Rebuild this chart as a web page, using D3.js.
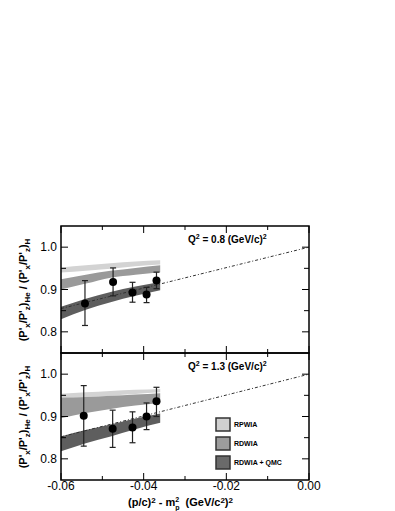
<!DOCTYPE html>
<html>
<head>
<meta charset="utf-8">
<script src="https://cdn.jsdelivr.net/npm/d3@7"></script>
<style>
  body { margin: 0; background: #fff; }
  text { font-family: 'Liberation Sans', Arial, sans-serif; }
</style>
</head>
<body>
<div id="chart"></div>
<script>
// band x grid (GeV/c^2)^2
var bandX = [-0.06, -0.054, -0.048, -0.042, -0.036];

// Q2 = 0.8 panel
var rpwiaLo08 = [0.940, 0.944, 0.949, 0.955, 0.959];
var rpwiaHi08 = [0.952, 0.957, 0.962, 0.966, 0.969];
var rdwiaLo08 = [0.900, 0.914, 0.928, 0.935, 0.941];
var rdwiaHi08 = [0.924, 0.935, 0.944, 0.951, 0.957];
var qmcLo08 = [0.830, 0.852, 0.870, 0.885, 0.898];
var qmcHi08 = [0.859, 0.878, 0.894, 0.907, 0.918];
var ptsX08 = [-0.0542, -0.0474, -0.0427, -0.0393, -0.0369];
var ptsY08 = [0.867, 0.918, 0.893, 0.888, 0.921];
var errLo08 = [0.815, 0.885, 0.870, 0.869, 0.902];
var errHi08 = [0.921, 0.951, 0.917, 0.905, 0.941];

// Q2 = 1.3 panel
var rpwiaLo13 = [0.943, 0.946, 0.949, 0.953, 0.957];
var rpwiaHi13 = [0.954, 0.957, 0.960, 0.963, 0.965];
var rdwiaLo13 = [0.896, 0.908, 0.918, 0.926, 0.932];
var rdwiaHi13 = [0.944, 0.946, 0.949, 0.952, 0.955];
var qmcLo13 = [0.818, 0.837, 0.853, 0.870, 0.885];
var qmcHi13 = [0.853, 0.868, 0.881, 0.895, 0.907];
var ptsX13 = [-0.0545, -0.0475, -0.0427, -0.0393, -0.0369];
var ptsY13 = [0.902, 0.871, 0.874, 0.900, 0.936];
var errLo13 = [0.830, 0.827, 0.838, 0.869, 0.900];
var errHi13 = [0.973, 0.915, 0.911, 0.932, 0.969];

// dash-dotted reference line
var lineX = [-0.06, 0.0];
var lineY08 = [0.855, 1.0];
var lineY13 = [0.852, 1.0];

var xTicks = [-0.06, -0.05, -0.04, -0.03, -0.02, -0.01, 0.0];
var xTickLabels = ['-0.06', '', '-0.04', '', '-0.02', '', '0.00'];
var yTicks = [0.8, 0.85, 0.9, 0.95, 1.0];
var yTickLabels = ['0.8', '', '0.9', '', '1.0'];
var legendNames = ['RPWIA', 'RDWIA', 'RDWIA + QMC'];
var legendColors = ['#d0d0d0', '#9c9c9c', '#6a6a6a'];
var bandColors = ['#d3d3d3', '#9a9a9a', '#5e5e5e'];

var width = 395, height = 511;
var left = 61, right = 309;
var panelH = 127;

var svg = d3.select('#chart').append('svg')
  .attr('width', width)
  .attr('height', height);

var x = d3.scaleLinear().domain([-0.06, 0.0]).range([left, right]);

var drawPanel = function(top, bands, ptsX, ptsY, errLo, errHi, lineY, qLabel) {
  var y = d3.scaleLinear().domain([0.75, 1.05]).range([top + panelH, top]);
  var g = svg.append('g');

  /*
  bands
  */
  bands.forEach(function(b, i) {
    var area = d3.area()
      .x(function(d, j) { return x(bandX[j]); })
      .y0(function(d, j) { return y(b[0][j]); })
      .y1(function(d, j) { return y(b[1][j]); })
      .curve(d3.curveMonotoneX);
    g.append('path')
      .attr('d', area(bandX))
      .style('fill', bandColors[i])
      .style('stroke', 'none');
  });

  // dash dot line
  var line = d3.line()
    .x(function(d, j) { return x(lineX[j]); })
    .y(function(d, j) { return y(lineY[j]); });
  g.append('path')
    .attr('d', line(lineX))
    .style('fill', 'none')
    .style('stroke', '#333')
    .style('stroke-width', 1)
    .style('stroke-dasharray', '3,2,1,2');

  // error bars
  ptsX.forEach(function(px, i) {
    var cx = x(px);
    g.append('line')
      .attr('x1', cx).attr('x2', cx)
      .attr('y1', y(errLo[i])).attr('y2', y(errHi[i]))
      .style('stroke', '#222').style('stroke-width', 1.2);
    [errLo[i], errHi[i]].forEach(function(v) {
      g.append('line')
        .attr('x1', cx - 3).attr('x2', cx + 3)
        .attr('y1', y(v)).attr('y2', y(v))
        .style('stroke', '#222').style('stroke-width', 1.2);
    });
    g.append('circle')
      .attr('cx', cx)
      .attr('cy', y(ptsY[i]))
      .attr('r', 4)
      .style('fill', '#000');
  });

  // frame with ticks inward on all four sides
  var frame = g.append('g');
  yTicks.forEach(function(v, i) {
    var len = yTickLabels[i] ? 7 : 5;
    frame.append('line').attr('x1', left).attr('x2', left + len)
      .attr('y1', y(v)).attr('y2', y(v)).style('stroke', '#000').style('stroke-width', 1);
    frame.append('line').attr('x1', right).attr('x2', right - len)
      .attr('y1', y(v)).attr('y2', y(v)).style('stroke', '#000').style('stroke-width', 1);
    if (yTickLabels[i]) {
      frame.append('text')
        .attr('x', left - 4).attr('y', y(v) + 4)
        .attr('text-anchor', 'end')
        .style('font-size', '12px')
        .text(yTickLabels[i]);
    }
  });
  xTicks.forEach(function(v, i) {
    var len = xTickLabels[i] ? 7 : 4;
    frame.append('line').attr('x1', x(v)).attr('x2', x(v))
      .attr('y1', top + panelH).attr('y2', top + panelH - len).style('stroke', '#000');
    frame.append('line').attr('x1', x(v)).attr('x2', x(v))
      .attr('y1', top).attr('y2', top + len).style('stroke', '#000');
  });
  frame.append('rect')
    .attr('x', left).attr('y', top)
    .attr('width', right - left).attr('height', panelH)
    .style('fill', 'none').style('stroke', '#000').style('stroke-width', 1.5);

  // Q2 label
  var q = g.append('text')
    .attr('x', 188).attr('y', top + 17)
    .style('font-size', '10px').style('font-weight', 'bold');
  q.append('tspan').text('Q');
  q.append('tspan').attr('dy', -4).style('font-size', '7px').text('2');
  q.append('tspan').attr('dy', 4).text(' = ' + qLabel + ' (GeV/c)');
  q.append('tspan').attr('dy', -4).style('font-size', '7px').text('2');

  // y axis title
  var yt = g.append('text')
    .attr('transform', 'translate(27,' + (top + 64) + ') rotate(-90)')
    .attr('text-anchor', 'middle')
    .style('font-size', '11px').style('font-weight', 'bold');
  var sub = function(t) {
    yt.append('tspan').attr('dy', 3).style('font-size', '8px').text(t);
  };
  var norm = function(t) {
    yt.append('tspan').attr('dy', -3).text(t);
  };
  yt.append('tspan').text("(P'");
  sub('x'); norm("/P'"); sub('z'); norm(')'); sub('He');
  norm(" / (P'"); sub('x'); norm("/P'"); sub('z'); norm(')'); sub('H');
};

drawPanel(226, [[rpwiaLo08, rpwiaHi08], [rdwiaLo08, rdwiaHi08], [qmcLo08, qmcHi08]],
  ptsX08, ptsY08, errLo08, errHi08, lineY08, '0.8');
drawPanel(353, [[rpwiaLo13, rpwiaHi13], [rdwiaLo13, rdwiaHi13], [qmcLo13, qmcHi13]],
  ptsX13, ptsY13, errLo13, errHi13, lineY13, '1.3');

// x tick labels
xTicks.forEach(function(v, i) {
  if (!xTickLabels[i]) return;
  svg.append('text')
    .attr('x', x(v)).attr('y', 490)
    .attr('text-anchor', 'middle')
    .style('font-size', '12px')
    .text(xTickLabels[i]);
});

// x axis title
var xt = svg.append('text')
  .attr('x', 128).attr('y', 506)
  .style('font-size', '11px').style('font-weight', 'bold');
xt.append('tspan').text('(p/c)');
xt.append('tspan').attr('dy', -3).style('font-size', '8px').text('2');
xt.append('tspan').attr('dy', 3).text(' - m');
xt.append('tspan').attr('dy', -4).style('font-size', '7px').text('2');
xt.append('tspan').attr('dy', 8).attr('dx', -4).style('font-size', '7px').text('p');
xt.append('tspan').attr('dy', -4).text('\u00a0\u00a0(GeV/c');
xt.append('tspan').attr('dy', -3).style('font-size', '8px').text('2');
xt.append('tspan').attr('dy', 3).text(')');
xt.append('tspan').attr('dy', -3).style('font-size', '8px').text('2');

// legend
legendNames.forEach(function(name, i) {
  var ly = 418 + i * 19;
  svg.append('rect')
    .attr('x', 216).attr('y', ly)
    .attr('width', 14).attr('height', 13)
    .style('fill', legendColors[i])
    .style('stroke', '#333').style('stroke-width', 1.5);
  svg.append('text')
    .attr('x', 234).attr('y', ly + 9)
    .style('font-size', '7px').style('font-weight', 'bold')
    .text(name);
});
</script>
</body>
</html>
